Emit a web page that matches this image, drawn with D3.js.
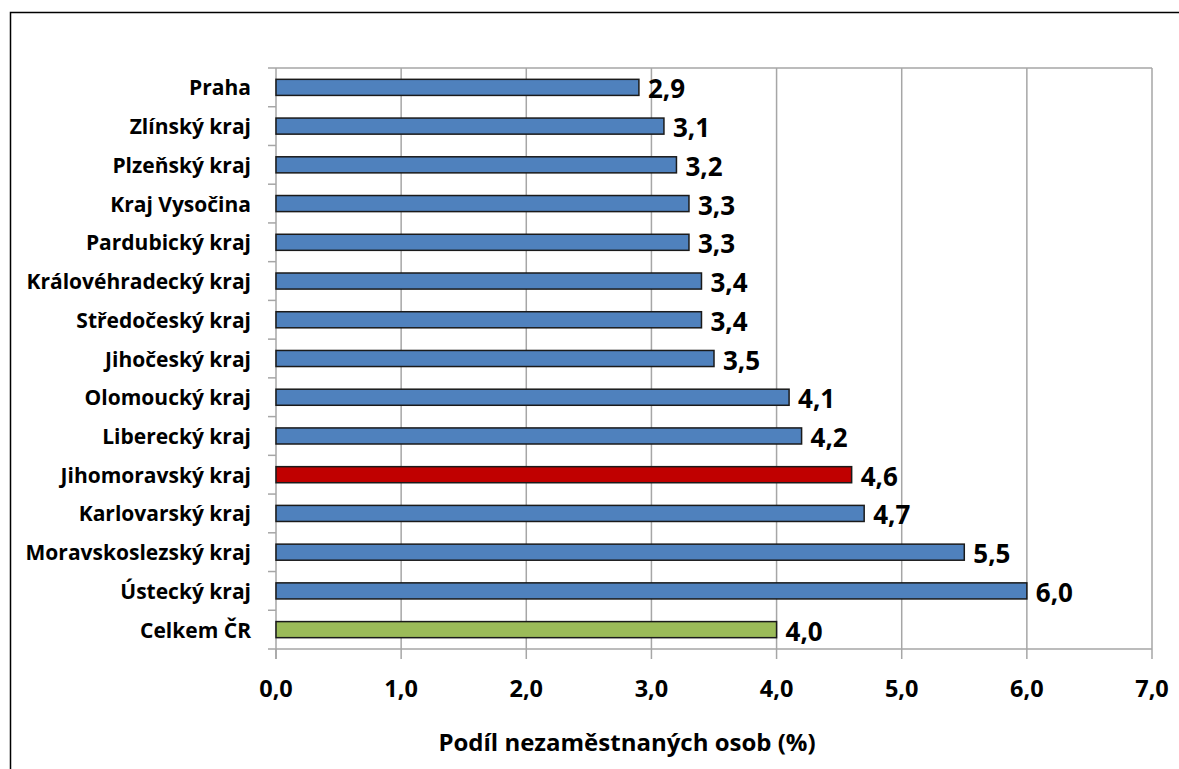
<!DOCTYPE html>
<html>
<head>
<meta charset="utf-8">
<script src="https://cdn.jsdelivr.net/npm/d3@7"></script>
<style>
  body { margin: 0; background: #fff; }
  text { font-family: "Open Sans", Lato, sans-serif; font-weight: bold; fill: #000; }
</style>
</head>
<body>
<svg id="chart" width="1179" height="769"></svg>
<script>
// regions, top to bottom as drawn
var regions = ["Praha", "Zlínský kraj", "Plzeňský kraj", "Kraj Vysočina", "Pardubický kraj",
               "Královéhradecký kraj", "Středočeský kraj", "Jihočeský kraj", "Olomoucký kraj",
               "Liberecký kraj", "Jihomoravský kraj", "Karlovarský kraj", "Moravskoslezský kraj",
               "Ústecký kraj", "Celkem ČR"];
var shares = [2.9, 3.1, 3.2, 3.3, 3.3, 3.4, 3.4, 3.5, 4.1, 4.2, 4.6, 4.7, 5.5, 6.0, 4.0];
var xTicks = [0, 1, 2, 3, 4, 5, 6, 7];
var axisTitle = "Podíl nezaměstnaných osob (%)";

var barColor = function(name){
  if (name == "Jihomoravský kraj") return "#C00000";
  if (name == "Celkem ČR") return "#9BBB59";
  return "#4F81BD";
};
var fmt = function(v){ return d3.format(".1f")(v).replace(".", ","); };

var svg = d3.select("#chart");
var margin = {left: 276, top: 68, right: 1152, bottom: 649};

// outer chart frame
svg.append("rect")
  .attr("x", 10.5).attr("y", 12.5)
  .attr("width", 1200).attr("height", 800)
  .attr("fill", "none").attr("stroke", "#000").attr("stroke-width", 1.5);

var x = d3.scaleLinear().domain([0, 7]).range([margin.left, margin.right]);
var y = d3.scaleBand().domain(regions).range([margin.top, margin.bottom]).paddingInner(0.585).paddingOuter(0.2925);
var yb = d3.scaleBand().domain(regions).range([margin.top, margin.bottom]);

// grid lines + plot frame
svg.append("g").selectAll("line").data(xTicks.slice(1)).join("line")
  .attr("x1", d => x(d)).attr("x2", d => x(d))
  .attr("y1", margin.top).attr("y2", margin.bottom)
  .attr("stroke", "#a6a6a6").attr("stroke-width", 1.5);
svg.append("line")
  .attr("x1", margin.left).attr("x2", margin.right)
  .attr("y1", margin.top).attr("y2", margin.top)
  .attr("stroke", "#a6a6a6").attr("stroke-width", 1.5);

// y axis: gray line with outer ticks on band edges
var yEdges = regions.map(d => yb(d)).concat([margin.bottom]);
svg.append("line")
  .attr("x1", margin.left).attr("x2", margin.left)
  .attr("y1", margin.top).attr("y2", margin.bottom + 10)
  .attr("stroke", "#a6a6a6").attr("stroke-width", 1.5);
svg.append("g").selectAll("line").data(yEdges).join("line")
  .attr("x1", margin.left - 8).attr("x2", margin.left)
  .attr("y1", d => d).attr("y2", d => d)
  .attr("stroke", "#a6a6a6").attr("stroke-width", 1.5);

// x axis
svg.append("line")
  .attr("x1", margin.left).attr("x2", margin.right)
  .attr("y1", margin.bottom).attr("y2", margin.bottom)
  .attr("stroke", "#a6a6a6").attr("stroke-width", 1.5);
svg.append("g").selectAll("line").data(xTicks).join("line")
  .attr("x1", d => x(d)).attr("x2", d => x(d))
  .attr("y1", margin.bottom).attr("y2", margin.bottom + 10)
  .attr("stroke", "#a6a6a6").attr("stroke-width", 1.5);
svg.append("g").selectAll("text").data(xTicks).join("text")
  .attr("x", d => x(d)).attr("y", 688)
  .attr("text-anchor", "middle").attr("dominant-baseline", "central")
  .style("font-size", "23.5px")
  .text(fmt);

// category labels
svg.append("g").selectAll("text").data(regions).join("text")
  .attr("x", 251).attr("y", d => yb(d) + yb.bandwidth() / 2)
  .attr("text-anchor", "end").attr("dominant-baseline", "central")
  .style("font-size", "21px")
  .text(d => d);

// bars
svg.append("g").selectAll("rect").data(regions).join("rect")
  .attr("x", margin.left)
  .attr("y", d => y(d))
  .attr("width", (d, i) => x(shares[i]) - margin.left)
  .attr("height", y.bandwidth())
  .attr("fill", d => barColor(d))
  .attr("stroke", "#1a1a1a").attr("stroke-width", 1.5);

// value labels
svg.append("g").selectAll("text").data(regions).join("text")
  .attr("x", (d, i) => x(shares[i]) + 9)
  .attr("y", d => yb(d) + yb.bandwidth() / 2 + 1)
  .attr("dominant-baseline", "central")
  .style("font-size", "26px")
  .text((d, i) => fmt(shares[i]));

// axis title
svg.append("text")
  .attr("x", 627).attr("y", 741)
  .attr("text-anchor", "middle").attr("dominant-baseline", "central")
  .style("font-size", "24px")
  .text(axisTitle);
</script>
</body>
</html>
